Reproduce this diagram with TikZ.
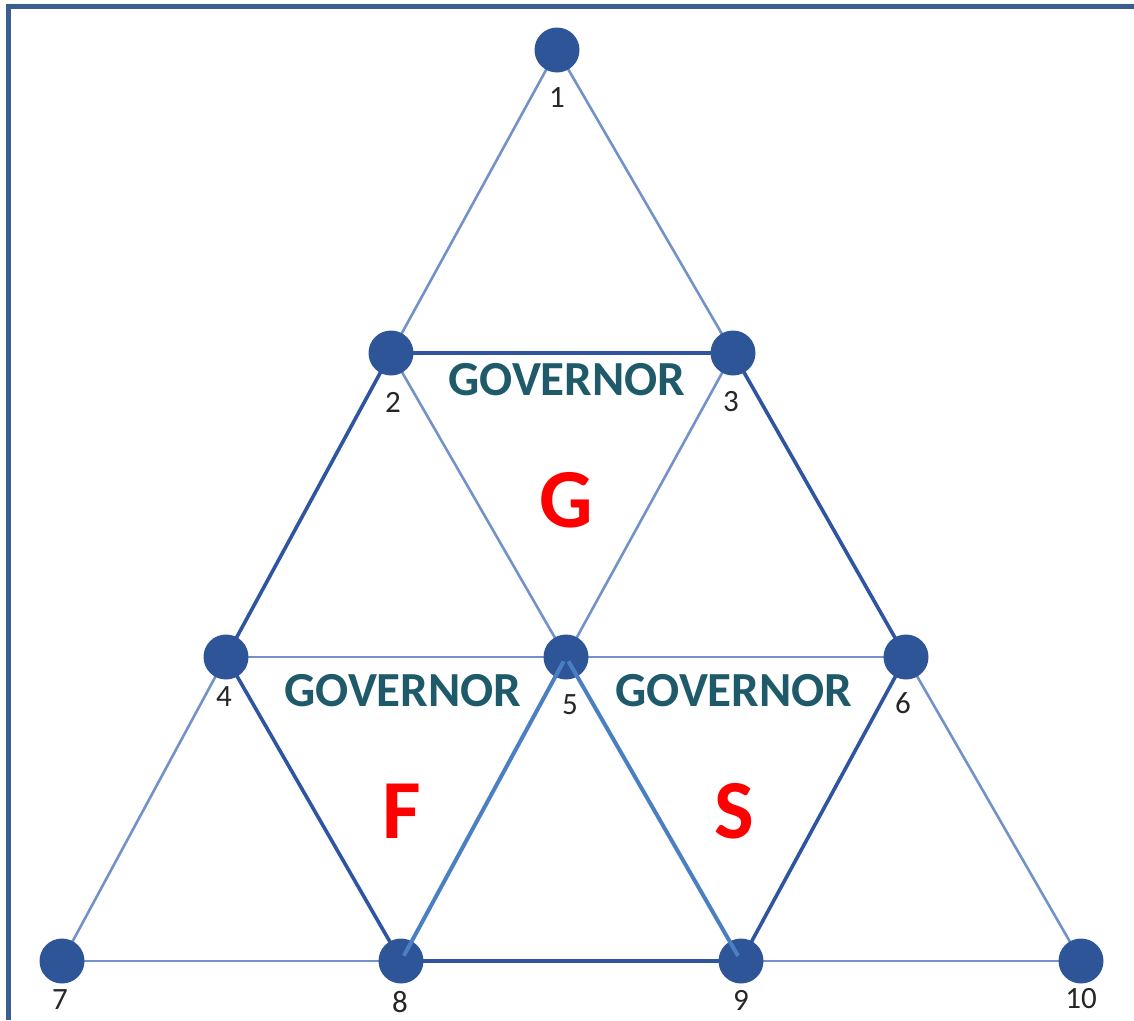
\documentclass[tikz,border=0pt]{standalone}
\usepackage{fontspec}
\setmainfont{Carlito}
\definecolor{nodeblue}{HTML}{2E5598}
\definecolor{thinblue}{HTML}{7392C9}
\definecolor{darkblue}{HTML}{2F55A0}
\definecolor{brightblue}{HTML}{4A80C2}
\definecolor{framecol}{HTML}{3A5F8F}
\definecolor{govcol}{HTML}{1F5A6B}
\begin{document}
\begin{tikzpicture}[x=1pt,y=-1pt,
  vert/.style={circle,fill=nodeblue,draw=none,minimum size=45pt,inner sep=0pt},
  numlab/.style={font=\fontsize{31}{31}\selectfont,text=black!85,inner sep=0pt},
  thinedge/.style={thinblue,line width=2.6pt},
  darkedge/.style={darkblue,line width=3.6pt},
  brightedge/.style={brightblue,line width=4pt},
  govtext/.style={font=\fontsize{49}{49}\selectfont\bfseries,text=govcol,inner sep=0pt},
  bigletter/.style={font=\fontsize{84}{84}\selectfont\bfseries,text=red,inner sep=0pt}]
\useasboundingbox (0,0) rectangle (1134,1020);
% frame
\coordinate (fb) at (8,1020);
\coordinate (fc) at (8,6);
\coordinate (fr) at (1134,6);
\draw[framecol,line width=5pt] (fb) -- (fc) -- (fr);
% vertices (coordinates)
\coordinate (p1) at (557,50);
\coordinate (p2) at (391,353);
\coordinate (p3) at (733,353);
\coordinate (p4) at (226,657);
\coordinate (p5) at (566,657);
\coordinate (p6) at (906,657);
\coordinate (p7) at (62,961);
\coordinate (p8) at (401,961);
\coordinate (p9) at (741,961);
\coordinate (p10) at (1081,961);
% edges
\draw[thinedge] (p1) -- (p2);
\draw[thinedge] (p1) -- (p3);
\draw[thinedge] (p2) -- (p5);
\draw[thinedge] (p3) -- (p5);
\draw[thinedge] (p4) -- (p5);
\draw[thinedge] (p5) -- (p6);
\draw[thinedge] (p4) -- (p7);
\draw[thinedge] (p7) -- (p8);
\draw[thinedge] (p9) -- (p10);
\draw[thinedge] (p6) -- (p10);
\draw[darkedge] (p2) -- (p3);
\draw[darkedge] (p2) -- (p4);
\draw[darkedge] (p3) -- (p6);
\draw[darkedge] (p4) -- (p8);
\draw[darkedge] (p6) -- (p9);
\draw[darkedge] (p8) -- (p9);
% nodes
\foreach \i in {1,...,10} {\node[vert] (n\i) at (p\i) {};}
% bright edges drawn over nodes
\draw[brightedge,shorten <=5pt,shorten >=6pt] (n5.center) -- (n8.center);
\draw[brightedge,shorten <=5pt,shorten >=6pt] (n5.center) -- (n9.center);
% labels
\node[numlab] (l1) at (557,98) {1};
\node[numlab] (l2) at (393,402) {2};
\node[numlab] (l3) at (731,402) {3};
\node[numlab] (l4) at (224,697) {4};
\node[numlab] (l5) at (570,705) {5};
\node[numlab] (l6) at (903,703) {6};
\node[numlab] (l7) at (60,1000) {7};
\node[numlab] (l8) at (400,1002) {8};
\node[numlab] (l9) at (741,1000) {9};
\node[numlab] (l10) at (1081,999) {10};
\node[govtext] (g1) at (567,380) {GOVERNOR};
\node[govtext] (g2) at (403,691) {GOVERNOR};
\node[govtext] (g3) at (734,691) {GOVERNOR};
\node[bigletter] (lg) at (566,500) {G};
\node[bigletter] (lf) at (402,811) {F};
\node[bigletter] (ls) at (734,811) {S};
\end{tikzpicture}
\end{document}
